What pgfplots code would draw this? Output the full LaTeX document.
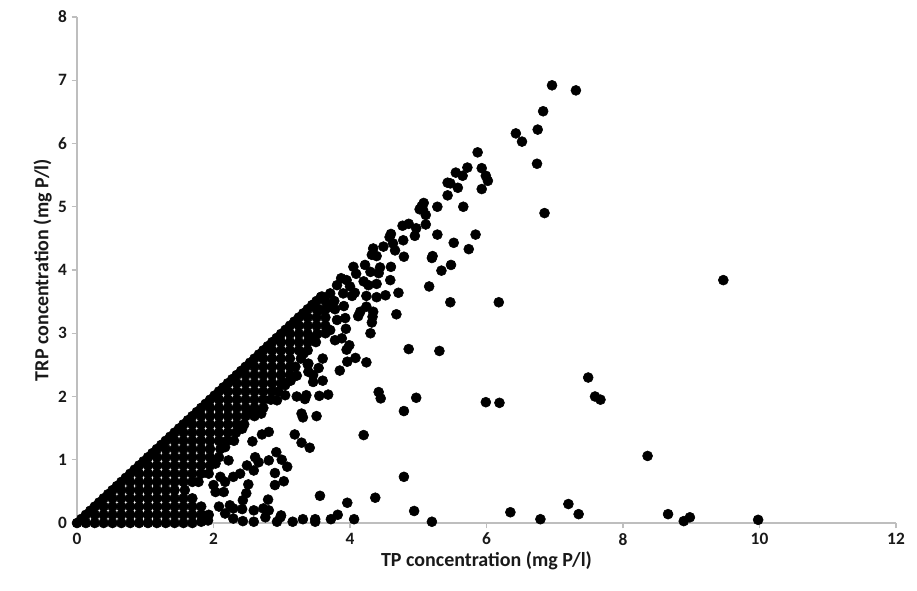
\documentclass[border=0pt]{standalone}
\usepackage{pgfplots}
\pgfplotsset{compat=1.18}
\usepackage{fontspec}
\setmainfont{Carlito}
\definecolor{axg}{RGB}{190,190,190}
\definecolor{txt}{RGB}{25,25,25}
\begin{document}
\begin{tikzpicture}[x=1pt,y=1pt]
\useasboundingbox (-57.75,-50.25) rectangle (630,392.25);
\begin{axis}[
  at={(0,0)},anchor=south west,
  scale only axis,width=614.25pt,height=379.5pt,
  xmin=0,xmax=12,ymin=0,ymax=8,
  xtick={0,2,4,6,8,10,12},ytick={0,1,2,3,4,5,6,7,8},
  axis x line*=bottom,axis y line*=left,
  axis line style={axg,line width=0.8pt,-},
  tick style={axg,line width=0.8pt},
  tick align=outside,major tick length=4pt,
  tick label style={font=\fontsize{13}{15}\selectfont\bfseries,text=txt},
  /pgf/number format/assume math mode=true,
  xlabel={TP concentration (mg P/l)},
  ylabel={TRP concentration (mg P/l)},
  label style={font=\fontsize{15}{18}\selectfont\bfseries,text=txt},
  xlabel style={yshift=2pt},
  ylabel style={yshift=-2pt},
  clip=false,
]
% dense wedge
\addplot[only marks,mark=*,mark size=3.75pt,black] coordinates {
(0,0)(.13,0)(.26,0)(.39,0)(.52,0)(.65,0)(.78,0)(.91,0)(1.04,0)(1.17,0)(1.3,0)(1.43,0)(1.56,0)(1.69,0)(1.82,.02)
(.13,.13)(.26,.13)(.39,.13)(.52,.13)(.65,.13)(.78,.13)(.91,.13)(1.04,.13)(1.17,.13)(1.3,.13)(1.43,.13)(1.56,.13)(1.69,.13)(1.82,.13)(1.93,.13)
(.26,.26)(.39,.26)(.52,.26)(.65,.26)(.78,.26)(.91,.26)(1.04,.26)(1.17,.26)(1.3,.26)(1.43,.26)(1.56,.26)(1.69,.26)(1.82,.26)
(.39,.39)(.52,.39)(.65,.39)(.78,.39)(.91,.39)(1.04,.39)(1.17,.39)(1.3,.39)(1.43,.39)(1.56,.39)(1.69,.39)
(.52,.52)(.65,.52)(.78,.52)(.91,.52)(1.04,.52)(1.17,.52)(1.3,.52)(1.43,.52)(1.58,.52)
(.65,.65)(.78,.65)(.91,.65)(1.04,.65)(1.17,.65)(1.3,.65)(1.43,.65)(1.56,.65)(1.69,.65)(1.78,.65)
(.78,.78)(.91,.78)(1.04,.78)(1.17,.78)(1.3,.78)(1.43,.78)(1.56,.78)(1.69,.78)(1.82,.78)
(.91,.91)(1.04,.91)(1.17,.91)(1.3,.91)(1.43,.91)(1.56,.91)(1.69,.91)(1.82,.91)(1.95,.91)
(1.04,1.04)(1.17,1.04)(1.3,1.04)(1.43,1.04)(1.56,1.04)(1.69,1.04)(1.82,1.04)(1.95,1.04)(2.08,1.04)
(1.17,1.17)(1.3,1.17)(1.43,1.17)(1.56,1.17)(1.69,1.17)(1.82,1.17)(1.95,1.17)(2.1,1.17)
(1.3,1.3)(1.43,1.3)(1.56,1.3)(1.69,1.3)(1.82,1.3)(1.95,1.3)(2.08,1.3)(2.2,1.3)(2.3,1.3)
(1.43,1.43)(1.56,1.43)(1.69,1.43)(1.82,1.43)(1.95,1.43)(2.08,1.43)(2.21,1.43)(2.33,1.43)
(1.56,1.56)(1.69,1.56)(1.82,1.56)(1.95,1.56)(2.08,1.56)(2.21,1.56)(2.34,1.56)(2.45,1.56)
(1.69,1.69)(1.82,1.69)(1.95,1.69)(2.08,1.69)(2.21,1.69)(2.34,1.69)(2.47,1.69)(2.6,1.69)
(1.82,1.82)(1.95,1.82)(2.08,1.82)(2.21,1.82)(2.34,1.82)(2.47,1.82)(2.6,1.82)(2.73,1.82)
(1.95,1.95)(2.08,1.95)(2.21,1.95)(2.34,1.95)(2.47,1.95)(2.6,1.95)(2.73,1.95)(2.84,1.95)
(2.08,2.08)(2.21,2.08)(2.34,2.08)(2.47,2.08)(2.6,2.08)(2.73,2.08)(2.86,2.08)(2.95,2.08)
(2.21,2.21)(2.34,2.21)(2.47,2.21)(2.6,2.21)(2.73,2.21)(2.86,2.21)(2.99,2.21)(3.05,2.21)
(2.34,2.34)(2.47,2.34)(2.6,2.34)(2.73,2.34)(2.86,2.34)(2.99,2.34)(3.12,2.34)
(2.47,2.47)(2.6,2.47)(2.73,2.47)(2.86,2.47)(2.99,2.47)(3.12,2.47)(3.2,2.47)
(2.6,2.6)(2.73,2.6)(2.86,2.6)(2.99,2.6)(3.12,2.6)(3.28,2.6)
(2.73,2.73)(2.86,2.73)(2.99,2.73)(3.12,2.73)(3.25,2.73)(3.38,2.73)
(2.86,2.86)(2.99,2.86)(3.12,2.86)(3.25,2.86)(3.38,2.86)(3.5,2.86)
(2.99,2.99)(3.12,2.99)(3.25,2.99)(3.38,2.99)(3.52,2.99)
(3.12,3.12)(3.25,3.12)(3.38,3.12)(3.51,3.12)(3.64,3.12)
(3.25,3.25)(3.38,3.25)(3.51,3.25)(3.64,3.25)
(3.38,3.38)(3.51,3.38)(3.64,3.38)(3.78,3.38)
(3.51,3.51)(3.64,3.51)(3.77,3.51)
(.065,.065)(.195,.195)(.325,.325)(.455,.455)(.585,.585)(.715,.715)(.845,.845)(.975,.975)(1.105,1.105)(1.235,1.235)(1.365,1.365)(1.495,1.495)(1.625,1.625)(1.755,1.755)(1.885,1.885)(2.015,2.015)(2.145,2.145)(2.275,2.275)(2.405,2.405)(2.535,2.535)(2.665,2.665)(2.795,2.795)(2.925,2.925)(3.055,3.055)(3.185,3.185)(3.315,3.315)(3.445,3.445)(3.575,3.575)
};
% individual points
\addplot[only marks,mark=*,mark size=3.75pt,black] coordinates {
(6.96,6.92)(7.31,6.84)(6.83,6.51)(6.75,6.22)(6.43,6.16)(6.52,6.03)(6.74,5.68)(5.87,5.86)(6.85,4.90)
(5.72,5.62)(5.93,5.61)(5.55,5.54)(5.65,5.49)(5.99,5.49)(6.02,5.41)(5.43,5.38)(5.47,5.37)(5.58,5.30)(5.93,5.28)(5.43,5.18)
(5.08,5.06)(5.05,5.01)(5.02,4.96)(5.07,4.95)(5.11,4.87)(5.28,5.0)(5.66,5.0)(5.11,4.72)(4.77,4.70)(4.86,4.73)(4.97,4.66)(4.95,4.54)
(5.28,4.56)(5.84,4.56)(5.52,4.43)(5.74,4.33)(4.60,4.57)(4.58,4.52)(4.78,4.47)(4.63,4.42)(4.66,4.31)(4.49,4.37)(4.34,4.34)(4.32,4.24)(4.39,4.22)
(4.79,4.21)(5.21,4.22)(5.20,4.19)(5.48,4.08)(5.34,3.99)(5.16,3.74)(4.05,4.05)(4.22,4.08)(4.44,4.04)(4.60,4.05)(4.09,3.94)(4.20,3.82)(4.30,3.97)(4.42,3.95)(4.27,3.76)(4.39,3.78)(4.59,3.84)
(3.87,3.87)(3.81,3.76)(3.95,3.84)(4.0,3.74)(4.07,3.64)(3.9,3.63)(4.03,3.59)(4.71,3.64)(4.24,3.59)(4.39,3.57)(4.52,3.60)(5.47,3.49)(6.18,3.49)(3.91,3.43)
(3.71,3.63)(3.59,3.58)(3.46,3.45)(3.71,3.42)(3.56,3.37)(4.24,3.42)(4.34,3.34)(4.15,3.34)(4.12,3.27)(4.33,3.26)(4.32,3.17)(4.68,3.30)(3.93,3.24)(3.81,3.21)(3.94,3.07)(4.30,3.00)
(3.71,3.05)(3.64,3.0)(3.78,2.89)(3.88,2.92)(3.99,2.81)(3.95,2.74)(3.46,2.92)(3.32,2.68)(4.86,2.75)(5.31,2.72)(3.60,2.60)(3.39,2.52)(3.54,2.45)(4.08,2.61)(3.96,2.55)(4.24,2.54)(3.85,2.41)
(4.42,2.07)(4.45,1.97)(4.97,1.98)(4.79,1.77)(5.99,1.91)(6.19,1.90)(3.68,2.03)(3.55,2.01)(3.36,2.02)(3.34,1.96)(3.22,2.0)(3.05,2.02)
(3.60,2.25)(3.46,2.23)(3.39,2.39)(3.46,2.34)(3.29,1.73)(3.31,1.67)(3.51,1.69)(4.2,1.39)(3.19,1.40)(3.29,1.27)(3.41,1.19)(3.0,1.0)(3.08,.89)(3.03,.66)
(4.79,.73)(3.56,.43)(4.37,.40)(3.96,.32)(4.94,.19)(6.35,.17)(7.2,.30)(7.35,.14)(6.79,.06)(5.2,.02)(4.06,.06)(3.82,.13)(3.72,.06)(3.49,.06)(3.49,.02)(3.31,.06)(3.16,.02)(2.99,.12)
(9.47,3.84)(7.49,2.3)(7.59,2.0)(7.67,1.95)(8.36,1.06)(8.66,.14)(8.89,.03)(8.98,.09)(9.98,.05)
(2.81,1.44)(2.71,1.40)(2.57,1.29)(2.92,1.12)(2.81,.99)(2.61,1.04)(2.66,.96)(2.49,.91)(2.59,.83)(2.9,.79)(2.9,.6)(2.51,.61)(2.48,.47)(2.43,.36)(2.42,.22)(2.8,.37)
(2.39,.78)(2.29,.73)(2.17,.65)(2.15,.49)(2.03,.49)(2.0,.6)(2.1,.73)(1.93,.78)(2.03,.94)(2.22,.99)(2.17,1.2)
(2.08,.26)(2.24,.28)(2.29,.23)(2.17,.15)(2.29,.07)(2.43,.03)(2.59,.02)(2.59,.2)(2.73,.23)(2.81,.2)(2.76,.09)(2.93,.02)(2.98,.09)(1.92,.04)
(2.93,1.94)(3.05,2.18)(3.22,2.33)(3.13,2.25)(2.56,1.73)(2.42,1.49)(2.7,1.73)(3.38,2.51)
};
\end{axis}
\end{tikzpicture}
\end{document}
